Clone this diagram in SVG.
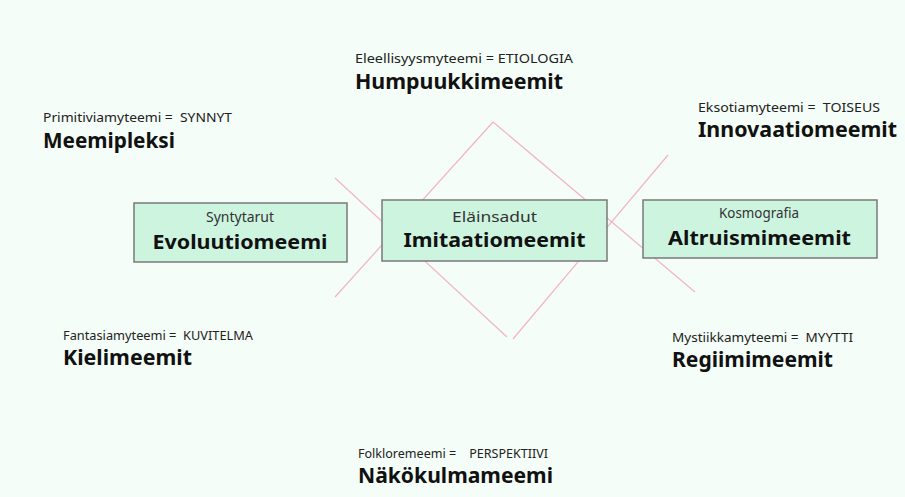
<svg xmlns="http://www.w3.org/2000/svg" width="905" height="497" viewBox="0 0 905 497">
  <style>
    .bg { fill: #f4fdf7; }
    .box rect { fill: #cdf4df; stroke: #7a7a7a; stroke-width: 1.5; }
    .link { stroke: #f4b2ca; stroke-width: 1.2; fill: none; }
    .sub { font-family: "Noto Sans", "Open Sans", sans-serif; font-size: 13px; fill: #222; white-space: pre; }
    .head { font-family: "Noto Sans", "Open Sans", sans-serif; font-size: 21px; font-weight: bold; fill: #111; }
    .bsub { font-family: "Noto Sans", "Open Sans", sans-serif; font-size: 14px; fill: #333; text-anchor: middle; }
    .bhead { font-family: "Noto Sans", "Open Sans", sans-serif; font-size: 20px; font-weight: bold; fill: #111; text-anchor: middle; }
  </style>
  <rect class="bg" x="0" y="0" width="905" height="497"/>

  <!-- crossing pink lines behind the boxes -->
  <g id="connectors">
    <line class="link" x1="493" y1="122" x2="335" y2="297"/>
    <line class="link" x1="335" y1="178" x2="507" y2="337"/>
    <line class="link" x1="513" y1="339" x2="668" y2="155"/>
    <line class="link" x1="493" y1="122" x2="695" y2="292"/>
  </g>

  <!-- boxed nodes -->
  <g id="evoluutiomeemi" class="box">
    <rect x="134" y="203" width="213" height="59"/>
    <text class="bsub" x="240" y="222" textLength="68" lengthAdjust="spacingAndGlyphs">Syntytarut</text>
    <text class="bhead" x="240" y="249" textLength="175" lengthAdjust="spacingAndGlyphs">Evoluutiomeemi</text>
  </g>
  <g id="imitaatiomeemit" class="box">
    <rect x="382" y="200" width="225" height="61"/>
    <text class="bsub" x="494.5" y="222" font-size="15" textLength="85" lengthAdjust="spacingAndGlyphs">Eläinsadut</text>
    <text class="bhead" x="494.5" y="247" textLength="182" lengthAdjust="spacingAndGlyphs">Imitaatiomeemit</text>
  </g>
  <g id="altruismimeemit" class="box">
    <rect x="643" y="200" width="234" height="58"/>
    <text class="bsub" x="759" y="218" textLength="80" lengthAdjust="spacingAndGlyphs">Kosmografia</text>
    <text class="bhead" x="759.5" y="245" textLength="183" lengthAdjust="spacingAndGlyphs">Altruismimeemit</text>
  </g>

  <!-- free labels -->
  <g id="meemipleksi">
    <text class="sub" x="43" y="122" textLength="189" lengthAdjust="spacingAndGlyphs">Primitiviamyteemi =  SYNNYT</text>
    <text class="head" x="43" y="148" textLength="132" lengthAdjust="spacingAndGlyphs">Meemipleksi</text>
  </g>
  <g id="humpuukkimeemit">
    <text class="sub" x="355" y="63" textLength="218" lengthAdjust="spacingAndGlyphs">Eleellisyysmyteemi = ETIOLOGIA</text>
    <text class="head" x="355" y="89" font-size="20" textLength="208" lengthAdjust="spacingAndGlyphs">Humpuukkimeemit</text>
  </g>
  <g id="innovaatiomeemit">
    <text class="sub" x="698" y="112" textLength="182" lengthAdjust="spacingAndGlyphs">Eksotiamyteemi =  TOISEUS</text>
    <text class="head" x="698" y="137" textLength="199" lengthAdjust="spacingAndGlyphs">Innovaatiomeemit</text>
  </g>
  <g id="kielimeemit">
    <text class="sub" x="63" y="340" font-size="11.5" textLength="190" lengthAdjust="spacingAndGlyphs">Fantasiamyteemi =  KUVITELMA</text>
    <text class="head" x="63" y="365" textLength="129" lengthAdjust="spacingAndGlyphs">Kielimeemit</text>
  </g>
  <g id="regiimimeemit">
    <text class="sub" x="672" y="342" textLength="181" lengthAdjust="spacingAndGlyphs">Mystiikkamyteemi =  MYYTTI</text>
    <text class="head" x="672" y="367" textLength="161" lengthAdjust="spacingAndGlyphs">Regiimimeemit</text>
  </g>
  <g id="nakokulmameemi">
    <text class="sub" x="358" y="458" font-size="12" textLength="190" lengthAdjust="spacingAndGlyphs">Folkloremeemi =    PERSPEKTIIVI</text>
    <text class="head" x="358" y="483" textLength="195" lengthAdjust="spacingAndGlyphs">Näkökulmameemi</text>
  </g>
</svg>
